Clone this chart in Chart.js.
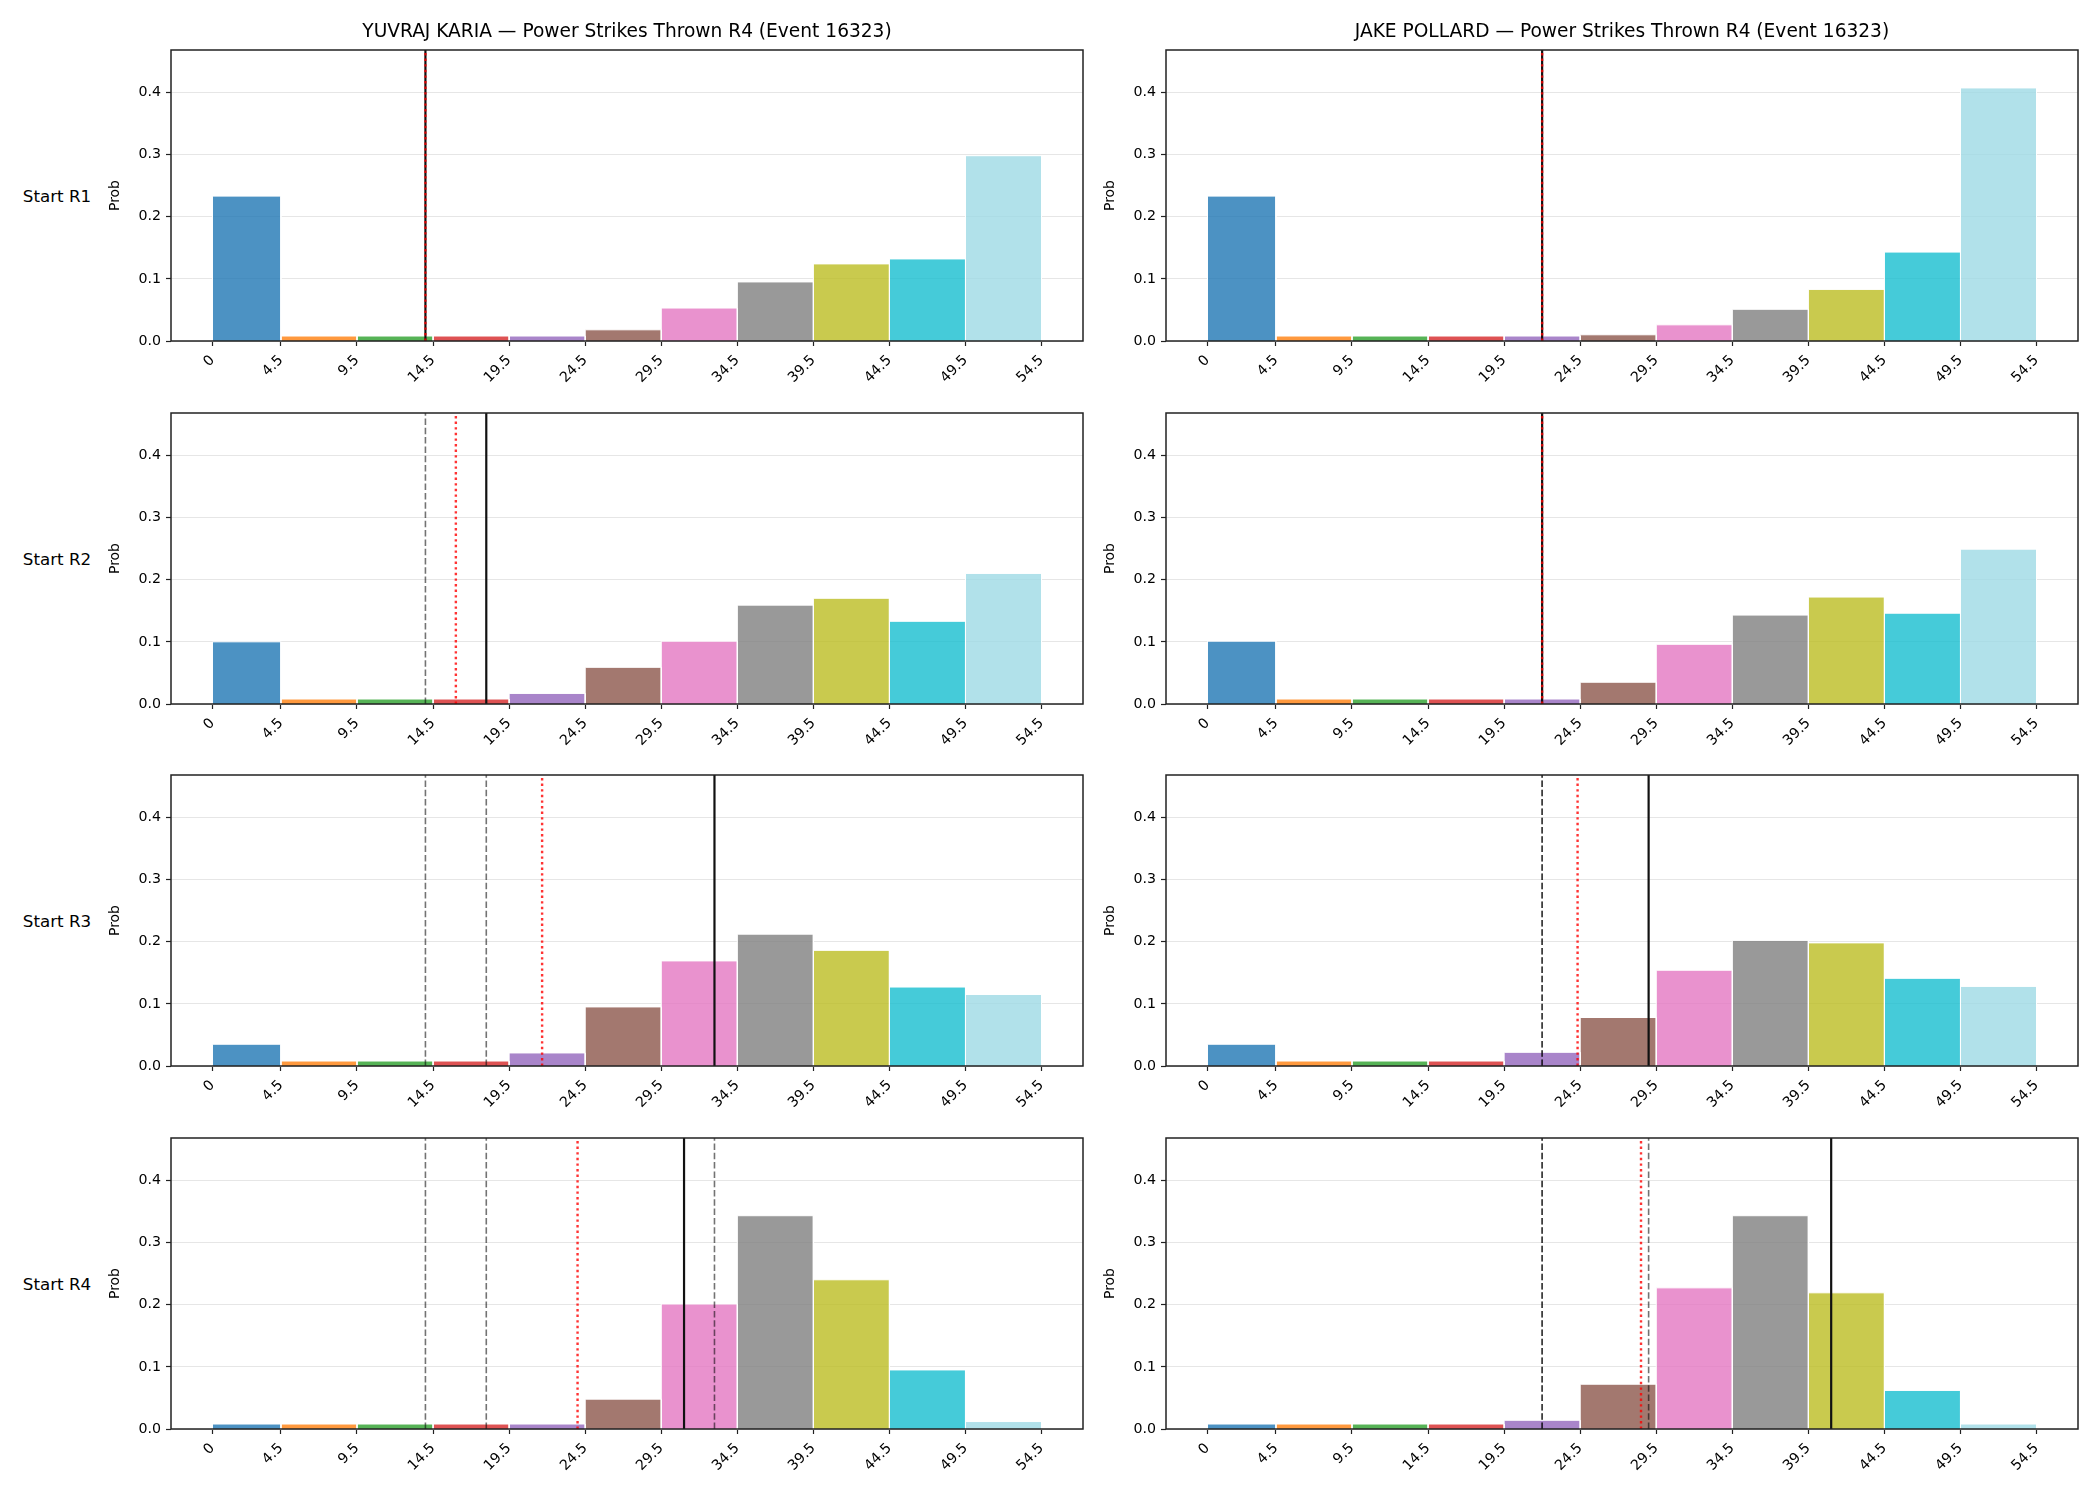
<!DOCTYPE html>
<html>
<head>
<meta charset="utf-8">
<script src="https://cdn.jsdelivr.net/npm/chart.js@4.4.1/dist/chart.umd.min.js"></script>
<style>
  html, body { margin: 0; padding: 0; background: #fff; }
  #fig { position: relative; width: 2100px; height: 1500px; font-family: "DejaVu Sans", sans-serif; color: #000; overflow: hidden; }
  #fig canvas { position: absolute; }
  .title { position: absolute; font-size: 18.6px; line-height: 22px; text-align: center; white-space: nowrap; transform: translateX(-50%); }
  .rowlab { position: absolute; font-size: 16.7px; line-height: 20px; white-space: nowrap; transform: translate(-50%, -50%); }
</style>
</head>
<body>
<div id="fig"></div>
<script>
// --- data ---
const fighters = ["YUVRAJ KARIA", "JAKE POLLARD"];
const chartName = "Power Strikes Thrown R4 (Event 16323)";
const roundLabels = ["Start R1", "Start R2", "Start R3", "Start R4"];

const binEdges = [0, 4.5, 9.5, 14.5, 19.5, 24.5, 29.5, 34.5, 39.5, 44.5, 49.5, 54.5];
const xTicks = [0, 4.5, 9.5, 14.5, 19.5, 24.5, 29.5, 34.5, 39.5, 44.5, 49.5, 54.5];
const xTickLabels = ["0", "4.5", "9.5", "14.5", "19.5", "24.5", "29.5", "34.5", "39.5", "44.5", "49.5", "54.5"];
const yTicks = [0, 0.1, 0.2, 0.3, 0.4];
const yTickLabels = ["0.0", "0.1", "0.2", "0.3", "0.4"];
const binColors = ["#1f77b4", "#ff7f0e", "#2ca02c", "#d62728", "#9467bd", "#8c564b",
                   "#e377c2", "#7f7f7f", "#bcbd22", "#17becf", "#9edae5"];

// probability per bin, one array per starting round
const kariaR1 = [0.233, 0.008, 0.008, 0.008, 0.008, 0.018, 0.053, 0.095, 0.124, 0.132, 0.298];
const kariaR2 = [0.100, 0.008, 0.008, 0.008, 0.017, 0.059, 0.101, 0.159, 0.170, 0.133, 0.210];
const kariaR3 = [0.035, 0.008, 0.008, 0.008, 0.021, 0.095, 0.169, 0.212, 0.186, 0.127, 0.115];
const kariaR4 = [0.008, 0.008, 0.008, 0.008, 0.008, 0.048, 0.201, 0.343, 0.240, 0.095, 0.012];

const pollardR1 = [0.233, 0.008, 0.008, 0.008, 0.008, 0.010, 0.026, 0.051, 0.083, 0.143, 0.407];
const pollardR2 = [0.101, 0.008, 0.008, 0.008, 0.008, 0.035, 0.096, 0.143, 0.172, 0.146, 0.249];
const pollardR3 = [0.035, 0.008, 0.008, 0.008, 0.022, 0.078, 0.154, 0.202, 0.198, 0.141, 0.128];
const pollardR4 = [0.008, 0.008, 0.008, 0.008, 0.014, 0.072, 0.227, 0.343, 0.219, 0.062, 0.008];

// marker lines: solid = this round, dashed = earlier rounds, dotted = running mean
const kariaSolid = [14, 18, 33, 31];
const kariaDotted = [14, 16, 21.67, 24];
const kariaDashed = [[], [14], [14, 18], [14, 18, 33]];

const pollardSolid = [22, 22, 29, 41];
const pollardDotted = [22, 22, 24.33, 28.5];
const pollardDashed = [[], [22], [22, 22], [22, 22, 29]];

const Y_MAX = 0.468;
const X_MIN = -2.725, X_MAX = 57.225;

// --- layout (px) ---
const AX_LEFT = [171, 1166];
const AX_TOP = [50, 413, 775, 1138];
const AX_W = 912, AX_H = 291;
const Y_AXIS_W = 68, X_AXIS_H = 70, PAD_T = 26, PAD_R = 20;

Chart.defaults.font.family = "'DejaVu Sans', sans-serif";
Chart.defaults.color = "#000";

function withAlpha(hex, a) {
  const n = parseInt(hex.slice(1), 16);
  return `rgba(${n >> 16},${(n >> 8) & 255},${n & 255},${a})`;
}

// axes frame on all four sides
const framePlugin = {
  id: "frame",
  afterDatasetsDraw(chart) {
    const { ctx, chartArea: a } = chart;
    ctx.save();
    ctx.strokeStyle = "#222";
    ctx.lineWidth = 1.5;
    ctx.strokeRect(a.left, a.top, a.right - a.left, a.bottom - a.top);
    ctx.restore();
  }
};

function barDatasets(probs) {
  return probs.map((p, i) => ({
    data: [{ x: binEdges[i], y: 0 }, { x: binEdges[i], y: p }, { x: binEdges[i + 1], y: p }, { x: binEdges[i + 1], y: 0 }],
    backgroundColor: withAlpha(binColors[i], 0.8),
    borderColor: "#ffffff",
    borderWidth: 1,
    fill: "origin",
    pointRadius: 0,
    order: 10
  }));
}

function vline(x, color, width, dash, order) {
  return {
    data: [{ x: x, y: 0 }, { x: x, y: Y_MAX }],
    borderColor: color,
    borderWidth: width,
    borderDash: dash,
    borderCapStyle: "butt",
    fill: false,
    pointRadius: 0,
    order: order
  };
}

function makePanel(col, row, probs, solid, dotted, dashed) {
  const fig = document.getElementById("fig");
  const canvas = document.createElement("canvas");
  const w = Y_AXIS_W + AX_W + PAD_R, h = PAD_T + AX_H + X_AXIS_H;
  canvas.width = w; canvas.height = h;
  canvas.style.width = w + "px"; canvas.style.height = h + "px";
  canvas.style.left = (AX_LEFT[col] - Y_AXIS_W) + "px";
  canvas.style.top = (AX_TOP[row] - PAD_T) + "px";
  fig.appendChild(canvas);

  const datasets = barDatasets(probs);
  dashed.forEach(v => datasets.push(vline(v, "rgba(0,0,0,0.55)", 1.6, [6.5, 2.8], 3)));
  datasets.push(vline(solid, "#111", 2.2, [], 2));
  datasets.push(vline(dotted, "rgba(255,0,0,0.8)", 2.4, [2.4, 3.2], 1));

  new Chart(canvas, {
    type: "line",
    data: { datasets },
    options: {
      responsive: false,
      animation: false,
      devicePixelRatio: 1,
      layout: { padding: { top: PAD_T, right: PAD_R, left: 0, bottom: 0 } },
      plugins: { legend: { display: false }, tooltip: { enabled: false } },
      events: [],
      scales: {
        x: {
          type: "linear",
          min: X_MIN, max: X_MAX,
          afterBuildTicks: s => { s.ticks = xTicks.map(v => ({ value: v })); },
          afterFit: s => { s.height = X_AXIS_H; },
          border: { display: false },
          grid: { display: true, drawOnChartArea: false, drawTicks: true, tickLength: 5, tickColor: "#222", tickWidth: 1.2 },
          ticks: {
            autoSkip: false, minRotation: 45, maxRotation: 45, padding: 6,
            font: { size: 14.2 }, color: "#000",
            callback: (v, i) => xTickLabels[i]
          }
        },
        y: {
          min: 0, max: Y_MAX,
          afterBuildTicks: s => { s.ticks = yTicks.map(v => ({ value: v })); },
          afterFit: s => { s.width = Y_AXIS_W; },
          border: { display: false },
          grid: { color: "#e6e6e6", lineWidth: 1, drawTicks: true, tickLength: 5, tickColor: "#222", tickWidth: 1.2 },
          title: { display: true, text: "Prob", font: { size: 13.9 }, color: "#000", padding: { top: 4, bottom: 4 } },
          ticks: {
            padding: 5, font: { size: 14.2 }, color: "#000",
            callback: (v, i) => yTickLabels[i]
          }
        }
      }
    },
    plugins: [framePlugin]
  });
}

const allProbs = [
  [kariaR1, kariaR2, kariaR3, kariaR4],
  [pollardR1, pollardR2, pollardR3, pollardR4]
];
const allSolid = [kariaSolid, pollardSolid];
const allDotted = [kariaDotted, pollardDotted];
const allDashed = [kariaDashed, pollardDashed];

for (let col = 0; col < 2; col++) {
  for (let row = 0; row < 4; row++) {
    makePanel(col, row, allProbs[col][row], allSolid[col][row], allDotted[col][row], allDashed[col][row]);
  }
  const t = document.createElement("div");
  t.className = "title";
  t.textContent = fighters[col] + " — " + chartName;
  t.style.left = (AX_LEFT[col] + AX_W / 2) + "px";
  t.style.top = "20px";
  document.getElementById("fig").appendChild(t);
}

roundLabels.forEach((lab, row) => {
  const d = document.createElement("div");
  d.className = "rowlab";
  d.textContent = lab;
  d.style.left = "57px";
  d.style.top = (AX_TOP[row] + AX_H / 2) + "px";
  document.getElementById("fig").appendChild(d);
});
</script>
</body>
</html>
